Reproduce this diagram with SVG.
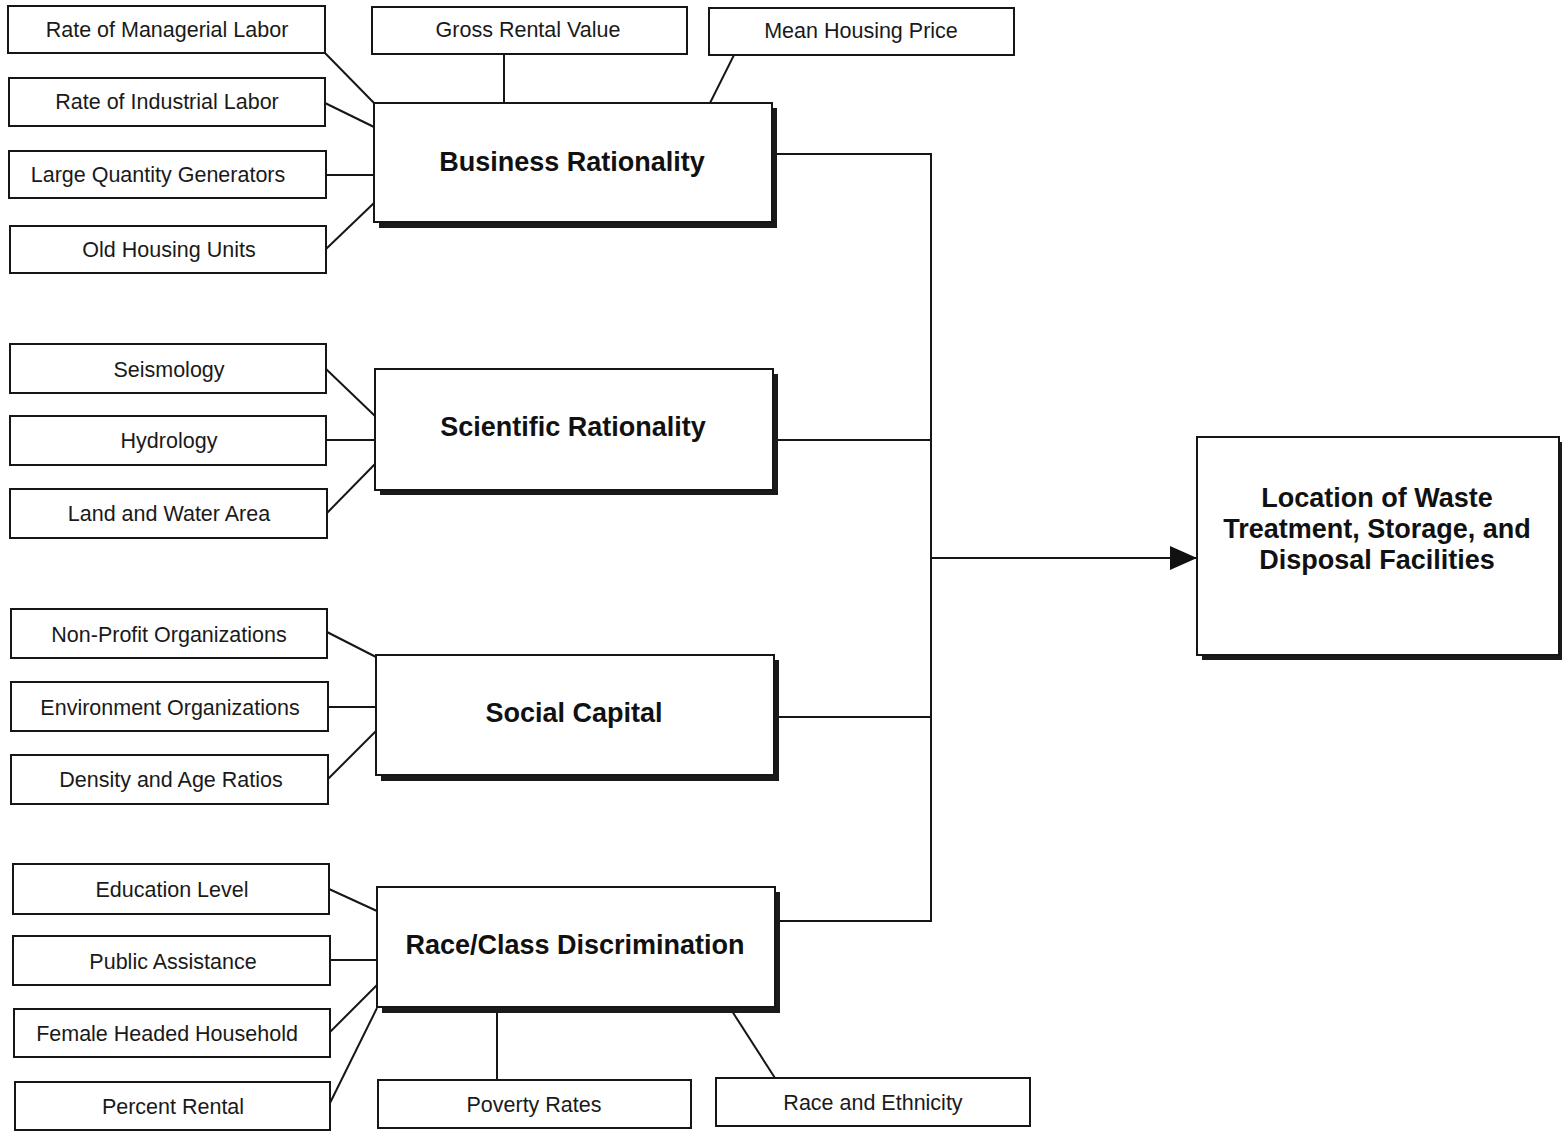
<svg xmlns="http://www.w3.org/2000/svg" width="1562" height="1132" viewBox="0 0 1562 1132">
<style>
.box{fill:#fff;stroke:#161616;stroke-width:2}
.shadow{fill:#1a1a1a}
.t{font-family:"Liberation Sans",Arial,sans-serif;font-size:21.5px;fill:#1a1a1a;text-anchor:middle}
.b{font-family:"Liberation Sans",Arial,sans-serif;font-size:27px;font-weight:bold;fill:#111;text-anchor:middle}
.c{fill:none;stroke:#161616;stroke-width:2}
</style>
<defs>
<marker id="arr" markerWidth="28" markerHeight="26" refX="27" refY="13" orient="auto" markerUnits="userSpaceOnUse">
<polygon points="0,1 27,13 0,25" fill="#111"/>
</marker>
</defs>
<rect width="1562" height="1132" fill="#fff"/>
<g id="connectors">
<line class="c" x1="325" y1="53" x2="374" y2="103"/>
<line class="c" x1="325" y1="103" x2="374" y2="127"/>
<line class="c" x1="326" y1="175" x2="374" y2="175"/>
<line class="c" x1="326" y1="249" x2="374" y2="203"/>
<line class="c" x1="504" y1="54" x2="504" y2="103"/>
<line class="c" x1="734" y1="55" x2="710" y2="103"/>
<line class="c" x1="326" y1="369" x2="375" y2="416"/>
<line class="c" x1="326" y1="440" x2="375" y2="440"/>
<line class="c" x1="327" y1="513" x2="375" y2="464"/>
<line class="c" x1="327" y1="632" x2="376" y2="657"/>
<line class="c" x1="328" y1="707" x2="376" y2="707"/>
<line class="c" x1="328" y1="779" x2="376" y2="731"/>
<line class="c" x1="329" y1="889" x2="377" y2="911"/>
<line class="c" x1="330" y1="960" x2="377" y2="960"/>
<line class="c" x1="330" y1="1032" x2="377" y2="985"/>
<line class="c" x1="330" y1="1103" x2="377" y2="1008"/>
<line class="c" x1="497" y1="1007" x2="497" y2="1080"/>
<line class="c" x1="730" y1="1008" x2="775" y2="1078"/>
<path class="c" d="M777,154 H931 V921 H779"/>
<line class="c" x1="778" y1="440" x2="931" y2="440"/>
<line class="c" x1="779" y1="717" x2="931" y2="717"/>
<line class="c" x1="931" y1="558" x2="1197" y2="558" marker-end="url(#arr)"/>
</g>
<g id="n-managerial"><rect class="box" x="8" y="6" width="317" height="47"/><text class="t" x="167" y="37">Rate of Managerial Labor</text></g>
<g id="n-industrial"><rect class="box" x="9" y="78" width="316" height="48"/><text class="t" x="167" y="109">Rate of Industrial Labor</text></g>
<g id="n-lqg"><rect class="box" x="9" y="151" width="317" height="47"/><text class="t" x="158" y="182">Large Quantity Generators</text></g>
<g id="n-oldhousing"><rect class="box" x="10" y="226" width="316" height="47"/><text class="t" x="169" y="257">Old Housing Units</text></g>
<g id="n-gross"><rect class="box" x="372" y="7" width="315" height="47"/><text class="t" x="528" y="37">Gross Rental Value</text></g>
<g id="n-mean"><rect class="box" x="709" y="8" width="305" height="47"/><text class="t" x="861" y="38">Mean Housing Price</text></g>
<g id="n-business"><rect class="shadow" x="379" y="108" width="398" height="120"/><rect class="box" x="374" y="103" width="398" height="119"/><text class="b" x="572" y="171">Business Rationality</text></g>
<g id="n-seismology"><rect class="box" x="10" y="344" width="316" height="49"/><text class="t" x="169" y="377">Seismology</text></g>
<g id="n-hydrology"><rect class="box" x="10" y="416" width="316" height="49"/><text class="t" x="169" y="448">Hydrology</text></g>
<g id="n-landwater"><rect class="box" x="10" y="489" width="317" height="49"/><text class="t" x="169" y="521">Land and Water Area</text></g>
<g id="n-scientific"><rect class="shadow" x="380" y="374" width="398" height="121"/><rect class="box" x="375" y="369" width="398" height="121"/><text class="b" x="573" y="436">Scientific Rationality</text></g>
<g id="n-nonprofit"><rect class="box" x="11" y="609" width="316" height="49"/><text class="t" x="169" y="642">Non-Profit Organizations</text></g>
<g id="n-environment"><rect class="box" x="11" y="682" width="317" height="49"/><text class="t" x="170" y="715">Environment Organizations</text></g>
<g id="n-density"><rect class="box" x="11" y="755" width="317" height="49"/><text class="t" x="171" y="787">Density and Age Ratios</text></g>
<g id="n-social"><rect class="shadow" x="381" y="660" width="398" height="121"/><rect class="box" x="376" y="655" width="398" height="120"/><text class="b" x="574" y="722">Social Capital</text></g>
<g id="n-education"><rect class="box" x="13" y="864" width="316" height="50"/><text class="t" x="172" y="897">Education Level</text></g>
<g id="n-public"><rect class="box" x="13" y="936" width="317" height="49"/><text class="t" x="173" y="969">Public Assistance</text></g>
<g id="n-female"><rect class="box" x="14" y="1009" width="316" height="48"/><text class="t" x="167" y="1041">Female Headed Household</text></g>
<g id="n-percent"><rect class="box" x="15" y="1082" width="315" height="48"/><text class="t" x="173" y="1114">Percent Rental</text></g>
<g id="n-poverty"><rect class="box" x="378" y="1080" width="313" height="48"/><text class="t" x="534" y="1112">Poverty Rates</text></g>
<g id="n-raceeth"><rect class="box" x="716" y="1078" width="314" height="48"/><text class="t" x="873" y="1110">Race and Ethnicity</text></g>
<g id="n-raceclass"><rect class="shadow" x="382" y="892" width="398" height="121"/><rect class="box" x="377" y="887" width="398" height="120"/><text class="b" x="575" y="954">Race/Class Discrimination</text></g>
<g id="n-location"><rect class="shadow" x="1202" y="442" width="360" height="218"/><rect class="box" x="1197" y="437" width="362" height="218"/><text class="b" x="1377" y="507">Location of Waste</text><text class="b" x="1377" y="538">Treatment, Storage, and</text><text class="b" x="1377" y="569">Disposal Facilities</text></g>
</svg>
